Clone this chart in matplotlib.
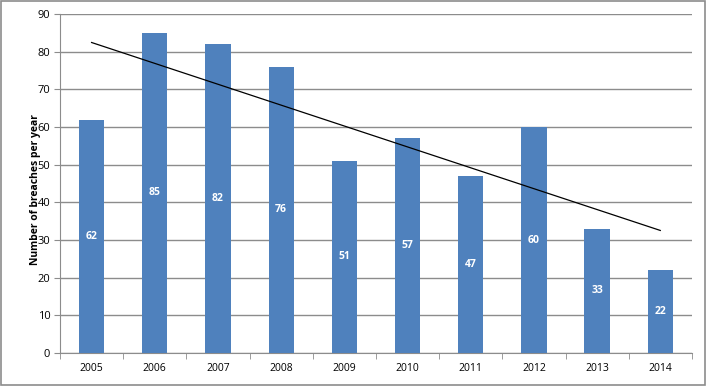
import numpy as np
import matplotlib
matplotlib.use("Agg")
import matplotlib.pyplot as plt
from matplotlib.patches import Rectangle

years = ['2005', '2006', '2007', '2008', '2009', '2010', '2011', '2012', '2013', '2014']
breaches = [62, 85, 82, 76, 51, 57, 47, 60, 33, 22]

plt.rcParams['font.family'] = ['Open Sans', 'DejaVu Sans']

fig = plt.figure(figsize=(7.06, 3.86), dpi=100)
ax = fig.add_axes([0.085, 0.0855, 0.895, 0.878])

x = np.arange(len(years))
ax.bar(x, breaches, width=0.4, color='#4F81BD', zorder=3)

for xi, v in zip(x, breaches):
    ax.text(xi, v / 2, str(v), ha='center', va='center', color='white',
            fontsize=7.5, fontweight='bold', zorder=4)

# linear trend line
slope, intercept = np.polyfit(x, breaches, 1)
ax.plot(x, slope * x + intercept, color='black', linewidth=0.9, zorder=5)

ax.set_xlim(-0.5, len(years) - 0.5)
ax.set_ylim(0, 90)
ax.set_yticks(range(0, 91, 10))
ax.grid(axis='y', color='#8c8c8c', linewidth=1, zorder=0)

ax.set_xticks(x)
ax.set_xticklabels(years, fontsize=7.5)
ax.set_xticks(np.arange(-0.5, len(years), 1), minor=True)
ax.tick_params(axis='x', which='major', length=0, pad=7)
ax.tick_params(axis='x', which='minor', length=4, color='#8c8c8c', direction='out')
ax.tick_params(axis='y', labelsize=8, length=4, color='#8c8c8c', pad=3)

for side in ['top', 'right']:
    ax.spines[side].set_visible(False)
for side in ['left', 'bottom']:
    ax.spines[side].set_color('#8c8c8c')

fig.text(0.05, 0.51, 'Number of breaches per year', rotation=90, ha='center',
         va='center', fontsize=7.5, fontweight='bold')

fig.patches.append(Rectangle((0.001, 0.002), 0.997, 0.995, transform=fig.transFigure,
                             fill=False, edgecolor='#8c8c8c', linewidth=1.2))

fig.savefig('out.png', dpi=100)
